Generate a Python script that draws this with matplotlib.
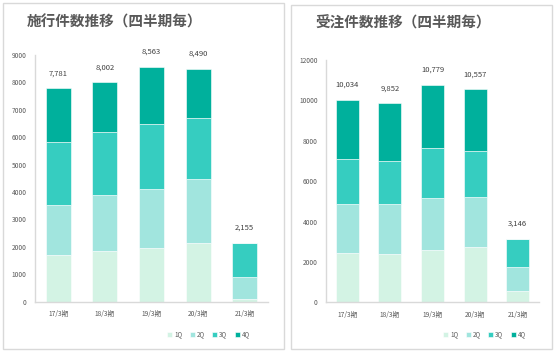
import matplotlib
matplotlib.use("Agg")
import matplotlib.pyplot as plt
from matplotlib.patches import Rectangle
import numpy as np

plt.rcParams['font.family'] = ['Noto Sans CJK JP', 'DejaVu Sans']

periods = ["17/3期", "18/3期", "19/3期", "20/3期", "21/3期"]
quarters = ["1Q", "2Q", "3Q", "4Q"]
colors = ["#d3f3e4", "#a1e5de", "#36cdc0", "#00b09c"]

# 施行件数
sekou_q1 = [1700, 1840, 1970, 2150, 110]
sekou_q2 = [1830, 2045, 2150, 2325, 780]
sekou_q3 = [2310, 2320, 2365, 2215, 1265]
sekou_q4 = [1941, 1797, 2078, 1800, 0]
sekou_total = [7781, 8002, 8563, 8490, 2155]

# 受注件数
juchu_q1 = [2455, 2405, 2575, 2750, 560]
juchu_q2 = [2425, 2475, 2605, 2450, 1200]
juchu_q3 = [2215, 2115, 2460, 2275, 1386]
juchu_q4 = [2939, 2857, 3139, 3082, 0]
juchu_total = [10034, 9852, 10779, 10557, 3146]

W, H = 556, 353
fig = plt.figure(figsize=(W / 100, H / 100), dpi=100)

def px(x0, y0, x1, y1):
    return [x0 / W, 1 - y1 / H, (x1 - x0) / W, (y1 - y0) / H]

# panel frames
for (x0, y0, x1, y1) in [(3, 3, 284, 349), (291, 5, 552, 349)]:
    fig.patches.append(Rectangle((x0 / W, 1 - y1 / H), (x1 - x0) / W, (y1 - y0) / H,
                                 transform=fig.transFigure, facecolor="none",
                                 edgecolor="#d9d9d9", lw=1.0, zorder=-1))

def draw(ax, series, totals, ymax, step, title, title_x, title_y):
    x = np.arange(len(periods))
    bottom = np.zeros(len(periods))
    for vals, c, q in zip(series, colors, quarters):
        ax.bar(x, vals, 0.54, bottom=bottom, color=c, label=q, edgecolor="white", linewidth=0.4)
        bottom += np.array(vals)
    for xi, t in zip(x, totals):
        ax.text(xi, t + ymax * 0.045, f"{t:,}", ha="center", va="bottom",
                fontsize=5.5, color="#404040")
    ax.set_xlim(-0.5, len(periods) - 0.5)
    ax.set_ylim(0, ymax)
    ax.set_yticks(np.arange(0, ymax + 1, step))
    ax.set_xticks(x)
    ax.set_xticklabels(periods)
    ax.tick_params(length=0, labelsize=4.8, colors="#595959", pad=6)
    ax.patch.set_alpha(0)
    for s in ["top", "right"]:
        ax.spines[s].set_visible(False)
    for s in ["left", "bottom"]:
        ax.spines[s].set_color("#d9d9d9")
        ax.spines[s].set_linewidth(1.0)
    ax.legend(loc="center", bbox_to_anchor=(0.745, -0.133), ncol=4, frameon=False,
              fontsize=4.5, handlelength=0.8, handleheight=0.8, handletextpad=0.3,
              columnspacing=1.2, labelcolor="#595959")
    fig.text(title_x / W, 1 - title_y / H, title, fontsize=10.5, fontweight="bold",
             color="#595959", ha="left", va="center")

ax1 = fig.add_axes(px(35, 55, 268, 301.7))
draw(ax1, [sekou_q1, sekou_q2, sekou_q3, sekou_q4], sekou_total, 9000, 1000,
     "施行件数推移（四半期毎）", 27, 22)

ax2 = fig.add_axes(px(326, 60, 539, 302.3))
draw(ax2, [juchu_q1, juchu_q2, juchu_q3, juchu_q4], juchu_total, 12000, 2000,
     "受注件数推移（四半期毎）", 315, 23)

fig.savefig("out.png", dpi=100)
